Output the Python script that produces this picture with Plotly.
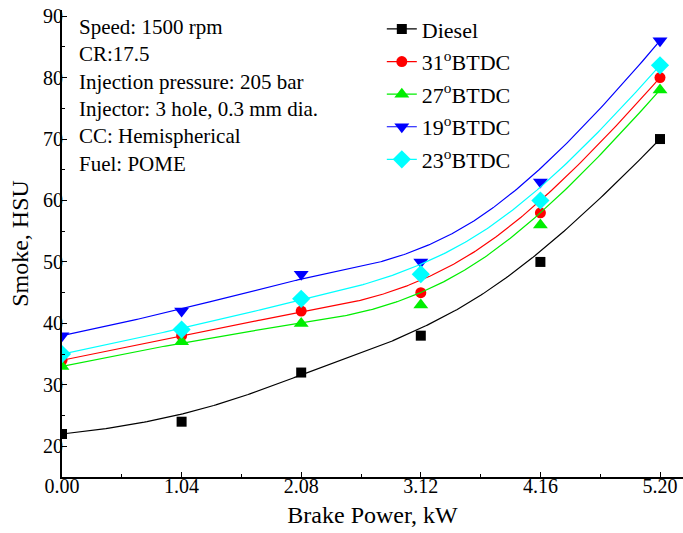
import numpy as np
import plotly.graph_objects as go

brake_power = [0.00, 1.04, 2.08, 3.12, 4.16, 5.20]
tick_labels = ["0.00", "1.04", "2.08", "3.12", "4.16", "5.20"]
diesel = [22, 24, 32, 38, 50, 70]
btdc31 = [34, 38, 42, 45, 58, 80]
btdc27 = [33, 37, 40, 43, 56, 78]
btdc19 = [38, 42, 48, 50, 63, 86]
btdc23 = [35, 39, 44, 48, 60, 82]

series = [
    ("Diesel", diesel, "black", "square", 10),
    ("31<sup>o</sup>BTDC", btdc31, "red", "circle", 11),
    ("27<sup>o</sup>BTDC", btdc27, "#00ee00", "triangle-up", 13),
    ("19<sup>o</sup>BTDC", btdc19, "blue", "triangle-down", 13),
    ("23<sup>o</sup>BTDC", btdc23, "cyan", "diamond", 14),
]


def bspline(px, py, k=3, n=300):
    """Clamped uniform B-spline using the data points as control points."""
    px = np.asarray(px, float)
    py = np.asarray(py, float)
    m = len(px)
    inner = np.linspace(0, 1, m - k + 1)
    knots = np.concatenate([[0] * k, inner, [1] * k])
    t = np.linspace(0, 1, n)
    t[-1] = 1 - 1e-12
    B = np.zeros((n, len(knots) - 1))
    for i in range(len(knots) - 1):
        B[:, i] = (t >= knots[i]) & (t < knots[i + 1])
    for d in range(1, k + 1):
        Bn = np.zeros((n, len(knots) - 1 - d))
        for i in range(len(knots) - 1 - d):
            a = knots[i + d] - knots[i]
            b = knots[i + d + 1] - knots[i + 1]
            term = 0
            if a > 0:
                term = term + (t - knots[i]) / a * B[:, i]
            if b > 0:
                term = term + (knots[i + d + 1] - t) / b * B[:, i + 1]
            Bn[:, i] = term
        B = Bn
    return B @ px, B @ py


FONT = "Liberation Serif, Times New Roman, serif"
fig = go.Figure()
for name, vals, color, sym, size in series:
    cx, cy = bspline(brake_power, vals)
    fig.add_trace(go.Scatter(x=cx, y=cy, mode="lines",
                             line=dict(color=color, width=1.2), showlegend=False,
                             hoverinfo="skip", legendgroup=name))
    fig.add_trace(go.Scatter(x=brake_power, y=vals, mode="markers",
                             marker=dict(color=color, symbol=sym, size=size),
                             showlegend=False, name=name, legendgroup=name))
    fig.add_trace(go.Scatter(x=[None], y=[None], mode="lines+markers", name=name,
                             legendgroup=name,
                             line=dict(color=color, width=1.2),
                             marker=dict(color=color, symbol=sym, size=size)))

info = ("Speed: 1500 rpm<br>CR:17.5<br>Injection pressure: 205 bar<br>"
        "Injector: 3 hole, 0.3 mm dia.<br>CC: Hemispherical<br>Fuel: POME")
fig.add_annotation(text=info, xref="paper", yref="paper", x=0.024, y=0.994,
                   xanchor="left", yanchor="top", showarrow=False, align="left",
                   font=dict(family=FONT, size=21, color="black"))

fig.update_layout(
    width=683, height=533,
    margin=dict(l=62, r=0, t=10, b=56),
    paper_bgcolor="white", plot_bgcolor="white",
    font=dict(family=FONT, size=20, color="black"),
    legend=dict(x=0.515, y=1.004, xanchor="left", yanchor="top",
                bgcolor="rgba(0,0,0,0)", font=dict(family=FONT, size=22),
                tracegroupgap=1),
    xaxis=dict(range=[0, 5.4], tickvals=brake_power, ticktext=tick_labels,
               showgrid=False, zeroline=False, showline=True, linecolor="black",
               linewidth=2, ticks="inside", ticklen=5, tickcolor="black",
               ticklabelstandoff=-10,
               minor=dict(tickvals=[0.52, 1.56, 2.6, 3.64, 4.68], ticks="inside",
                          ticklen=3, tickcolor="black"),
               title=dict(text="Brake Power, kW", font=dict(size=24), standoff=10),
               tickfont=dict(size=20)),
    yaxis=dict(range=[15, 91], tickvals=[20, 30, 40, 50, 60, 70, 80, 90],
               showgrid=False, zeroline=False, showline=True, linecolor="black",
               linewidth=2, ticks="inside", ticklen=5, tickcolor="black",
               ticklabelstandoff=-7,
               minor=dict(tickvals=[25, 35, 45, 55, 65, 75, 85], ticks="inside",
                          ticklen=3, tickcolor="black"),
               title=dict(text="Smoke, HSU", font=dict(size=24), standoff=8),
               tickfont=dict(size=20)),
)
fig.write_html("out.html")
